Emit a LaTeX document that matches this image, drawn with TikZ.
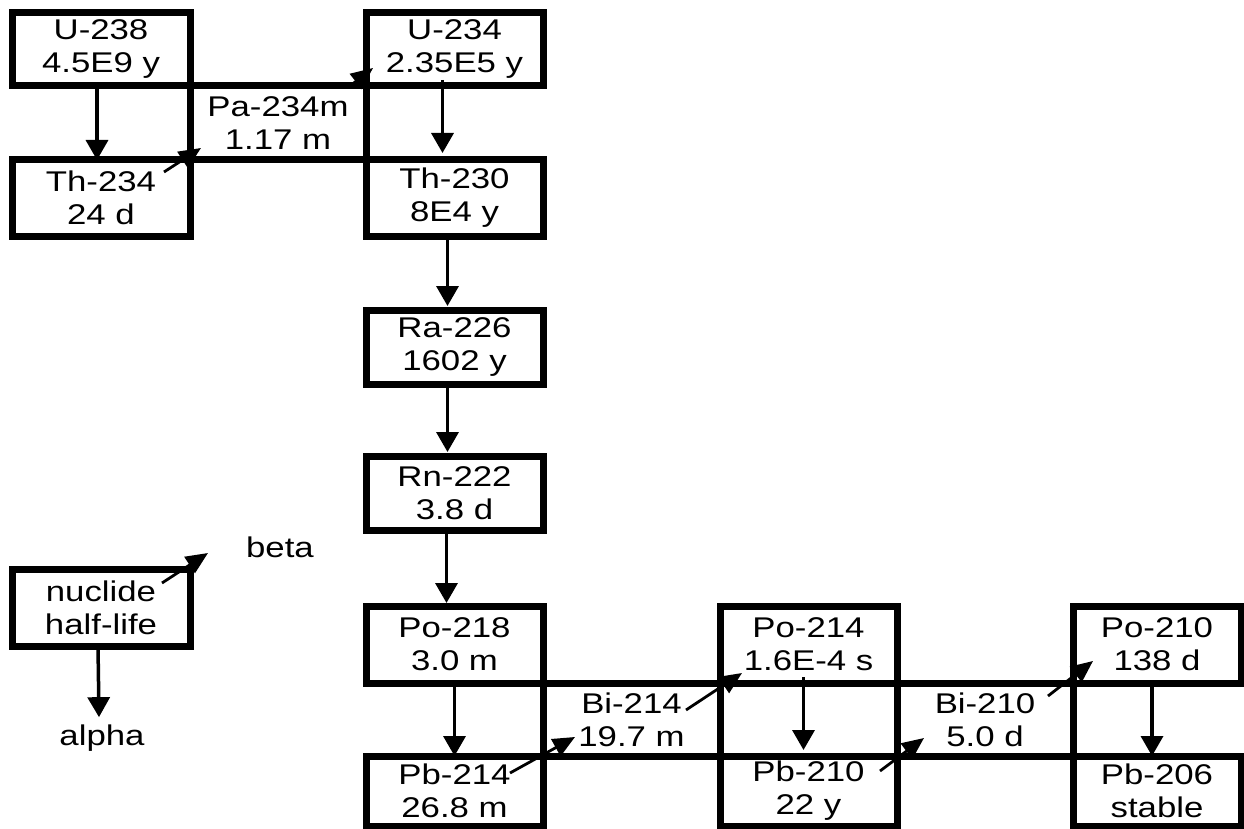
\documentclass[tikz,border=0pt]{standalone}
\usepackage{fontspec}
\setmainfont{Liberation Sans}[FakeStretch=1.22]
\usetikzlibrary{arrows.meta}
\begin{document}
\begin{tikzpicture}[x=1pt,y=-1pt,
  box/.style={draw,line width=7pt,rectangle,inner sep=0pt,outer sep=0pt,align=center,
    minimum width=178pt,font=\fontsize{28.5}{33}\selectfont},
  alphaarrow/.style={line width=3.5pt,-{Triangle[length=20pt,width=22pt]}},
  betaarrow/.style={line width=2.8pt,-{Triangle[length=22pt,width=19pt]}},
  lbl/.style={font=\fontsize{28.5}{33}\selectfont,inner sep=0pt}]
\useasboundingbox (0,0) rectangle (1244,829);
% top section
\node[box,minimum height=73pt] (u238) at (101,49.5) {U-238\\4.5E9 y};
\node[box,minimum height=76pt] (th234) at (101,198) {Th-234\\24 d};
\node[box,minimum width=176pt,minimum height=74pt] (pa234) at (278,123) {Pa-234m\\1.17 m};
\node[box,minimum width=177pt,minimum height=73pt] (u234) at (454.5,49.5) {U-234\\2.35E5 y};
\node[box,minimum width=177pt,minimum height=76pt] (th230) at (454.5,198) {Th-230\\8E4 y};
\node[box,minimum width=177pt,minimum height=74pt] (ra226) at (454.5,347) {Ra-226\\1602 y};
\node[box,minimum width=177pt,minimum height=74pt] (rn222) at (454.5,493) {Rn-222\\3.8 d};
% bottom section
\node[box,minimum width=177pt,minimum height=77pt] (po218) at (454.5,644.5) {Po-218\\3.0 m};
\node[box,minimum width=177pt,minimum height=70pt] (pb214) at (454.5,791) {Pb-214\\26.8 m};
\node[box,minimum width=177pt,minimum height=73pt] (bi214) at (631.5,719.5) {Bi-214\\19.7 m};
\node[box,minimum width=177pt,minimum height=77pt] (po214) at (808.5,644.5) {Po-214\\1.6E-4 s};
\node[box,minimum width=177pt,minimum height=70pt] (pb210) at (808.5,791) {Pb-210\\22 y};
\node[box,minimum width=176pt,minimum height=73pt] (bi210) at (985,719.5) {Bi-210\\5.0 d};
\node[box,minimum width=168pt,minimum height=77pt] (po210) at (1157,644.5) {Po-210\\138 d};
\node[box,minimum width=168pt,minimum height=70pt] (pb206) at (1157,791) {Pb-206\\stable};
% legend
\node[box,minimum height=77pt] (legend) at (101,607.5) {nuclide\\half-life};
\node[lbl,anchor=base] (betalabel) at (280,557) {beta};
\node[lbl,anchor=base] (alphalabel) at (102,745) {alpha};
% alpha decays
\draw[alphaarrow] ([xshift=-4pt,yshift=3pt]u238.south) -- ([xshift=-4pt]th234.north);
\draw[alphaarrow] ([xshift=-12pt,yshift=6pt]u234.south) -- ([xshift=-12pt,yshift=7pt]th230.north);
\draw[alphaarrow] ([xshift=-7pt]th230.south) -- ([xshift=-7pt,yshift=4pt]ra226.north);
\draw[alphaarrow] ([xshift=-7pt]ra226.south) -- ([xshift=-7pt,yshift=4pt]rn222.north);
\draw[alphaarrow] ([xshift=-8pt]rn222.south) -- ([xshift=-8pt,yshift=3pt]po218.north);
\draw[alphaarrow] ([xshift=0pt]po218.south) -- ([xshift=0pt]pb214.north);
\draw[alphaarrow] ([xshift=-5pt,yshift=6pt]po214.south) -- ([xshift=-5pt,yshift=6pt]pb210.north);
\draw[alphaarrow] ([xshift=-5pt]po210.south) -- ([xshift=-5pt]pb206.north);
\draw[alphaarrow] ([xshift=-3pt]legend.south) -- ([xshift=-3pt,yshift=7pt]alphalabel.north);
% beta decays
\coordinate (b1s) at (164,172); \coordinate (b1e) at (201,148);
\coordinate (b2s) at (350,86);  \coordinate (b2e) at (373,68);
\coordinate (b3s) at (510,773); \coordinate (b3e) at (575,737);
\coordinate (b4s) at (686,710); \coordinate (b4e) at (742,673);
\coordinate (b5s) at (880,771); \coordinate (b5e) at (924,738);
\coordinate (b6s) at (1048,696); \coordinate (b6e) at (1093,661);
\coordinate (b7s) at (162,583); \coordinate (b7e) at (208,553);
\draw[betaarrow] (b1s) -- (b1e);
\draw[betaarrow] (b2s) -- (b2e);
\draw[betaarrow] (b3s) -- (b3e);
\draw[betaarrow] (b4s) -- (b4e);
\draw[betaarrow] (b5s) -- (b5e);
\draw[betaarrow] (b6s) -- (b6e);
\draw[betaarrow] (b7s) -- (b7e);
\end{tikzpicture}
\end{document}
